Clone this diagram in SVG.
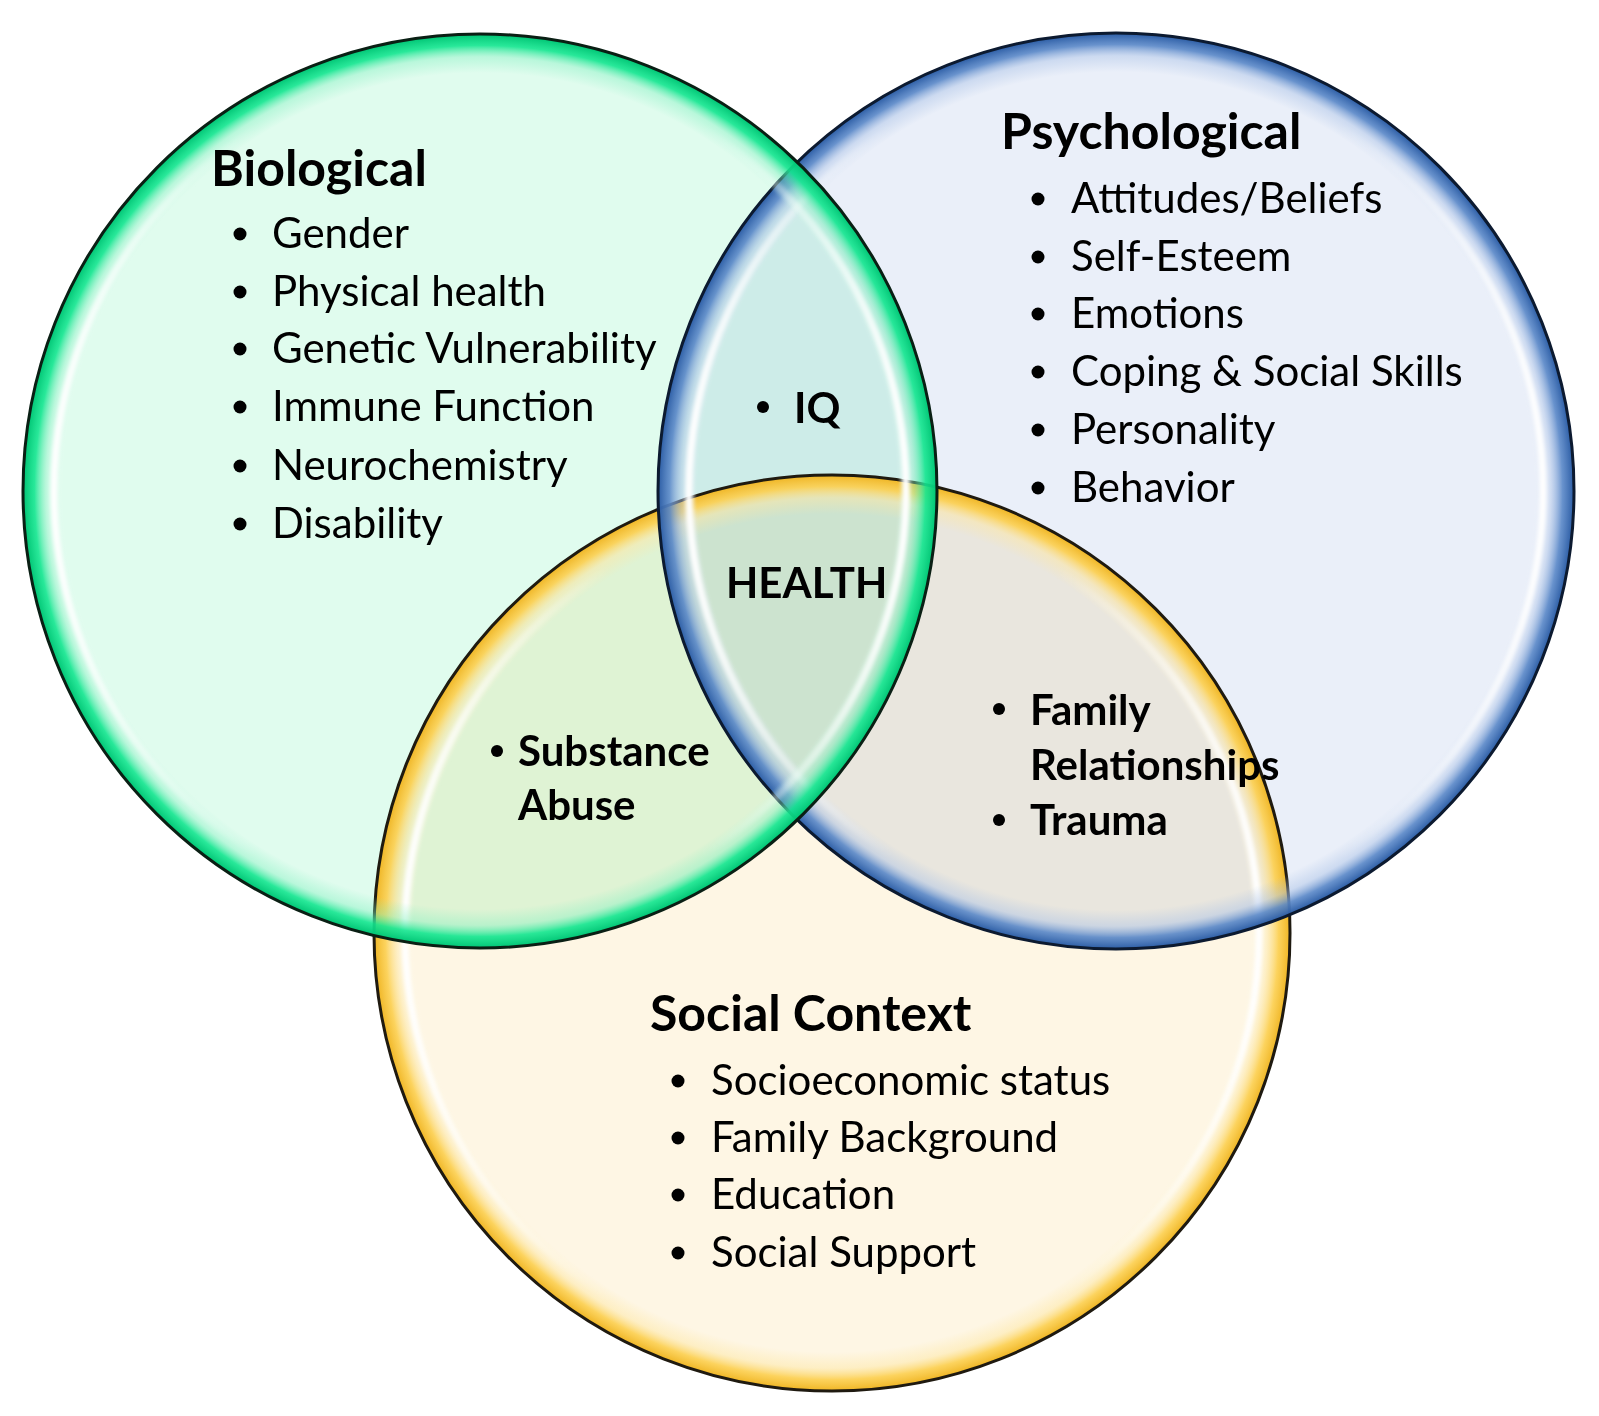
<svg xmlns="http://www.w3.org/2000/svg" width="1599" height="1416" viewBox="0 0 1599 1416">
<defs>
<style>
.t{font-family:Lato,"Liberation Sans",sans-serif;font-size:42px;fill:#000}
.h{font-family:Lato,"Liberation Sans",sans-serif;font-size:50px;font-weight:bold;fill:#000}
.b{font-family:Lato,"Liberation Sans",sans-serif;font-size:42px;font-weight:bold;fill:#000}
.dot{fill:#000}
.fill{mix-blend-mode:multiply}
.rim{fill:none;stroke-width:3}
.hl{fill:none;stroke:url(#hlg);stroke-width:8;filter:url(#blur)}
</style>
<filter id="blur" x="-10%" y="-10%" width="120%" height="120%"><feGaussianBlur stdDeviation="2"/></filter>
<linearGradient id="hlg" x1="0" y1="0" x2="1" y2="0">
<stop offset="0" stop-color="#fff" stop-opacity="1"/>
<stop offset="0.24" stop-color="#fff" stop-opacity="0"/>
<stop offset="0.76" stop-color="#fff" stop-opacity="0"/>
<stop offset="1" stop-color="#fff" stop-opacity="1"/>
</linearGradient>
<radialGradient id="bandG" cx="0.5" cy="0.5" r="0.5">
<stop offset="0" stop-color="#7ff0bf" stop-opacity="0"/>
<stop offset="0.915" stop-color="#7ff0bf" stop-opacity="0"/>
<stop offset="0.95" stop-color="#7ff0bf" stop-opacity="0.4"/>
<stop offset="0.975" stop-color="#14e690" stop-opacity="0.9"/>
<stop offset="1" stop-color="#00c474" stop-opacity="1"/>
</radialGradient>
<radialGradient id="bandB" cx="0.5" cy="0.5" r="0.5">
<stop offset="0" stop-color="#a9c1e6" stop-opacity="0"/>
<stop offset="0.915" stop-color="#a9c1e6" stop-opacity="0"/>
<stop offset="0.95" stop-color="#a9c1e6" stop-opacity="0.45"/>
<stop offset="0.975" stop-color="#5a88c8" stop-opacity="0.9"/>
<stop offset="1" stop-color="#2b5ca4" stop-opacity="1"/>
</radialGradient>
<radialGradient id="bandY" cx="0.5" cy="0.5" r="0.5">
<stop offset="0" stop-color="#fde7a4" stop-opacity="0"/>
<stop offset="0.915" stop-color="#fde7a4" stop-opacity="0"/>
<stop offset="0.95" stop-color="#fde7a4" stop-opacity="0.5"/>
<stop offset="0.975" stop-color="#fcd052" stop-opacity="0.92"/>
<stop offset="1" stop-color="#efb524" stop-opacity="1"/>
</radialGradient>
</defs>
<rect width="1599" height="1416" fill="#fff"/>

<g id="psychological">
<circle class="fill" cx="1116" cy="491" r="458" fill="#eaeff9"/>
</g>
<g id="social-context">
<circle class="fill" cx="832" cy="933" r="458" fill="#fef6e4"/>
</g>
<g id="biological">
<circle class="fill" cx="480" cy="491" r="457" fill="#e0fcee"/>
</g>

<g id="rims">
<g id="social-context-rim">
<circle cx="832" cy="933" r="458" fill="url(#bandY)"/>
<circle cx="832" cy="933" r="427" class="hl"/>
<circle cx="832" cy="933" r="458" class="rim" stroke="#1f1a10"/>
</g>
<g id="psychological-rim">
<circle cx="1116" cy="491" r="458" fill="url(#bandB)"/>
<circle cx="1116" cy="491" r="427" class="hl"/>
<circle cx="1116" cy="491" r="458" class="rim" stroke="#0c1a30"/>
</g>
<g id="biological-rim">
<circle cx="480" cy="491" r="457" fill="url(#bandG)"/>
<circle cx="480" cy="491" r="426" class="hl"/>
<circle cx="480" cy="491" r="457" class="rim" stroke="#0a1f14"/>
</g>
</g>

<g id="connectors"></g>

<g id="biological-labels">
<text class="h" x="211" y="186">Biological</text>
<circle class="dot" cx="240" cy="234" r="6.5"/><text class="t" x="272" y="248">Gender</text>
<circle class="dot" cx="240" cy="292" r="6.5"/><text class="t" x="272" y="306">Physical health</text>
<circle class="dot" cx="240" cy="349" r="6.5"/><text class="t" x="272" y="363">Genetic Vulnerability</text>
<circle class="dot" cx="240" cy="407" r="6.5"/><text class="t" x="272" y="421">Immune Function</text>
<circle class="dot" cx="240" cy="466" r="6.5"/><text class="t" x="272" y="480">Neurochemistry</text>
<circle class="dot" cx="240" cy="524" r="6.5"/><text class="t" x="272" y="538">Disability</text>
</g>

<g id="psychological-labels">
<text class="h" x="1001" y="149">Psychological</text>
<circle class="dot" cx="1038" cy="199" r="6.5"/><text class="t" x="1071" y="213">Attitudes/Beliefs</text>
<circle class="dot" cx="1038" cy="257" r="6.5"/><text class="t" x="1071" y="271">Self-Esteem</text>
<circle class="dot" cx="1038" cy="314" r="6.5"/><text class="t" x="1071" y="328">Emotions</text>
<circle class="dot" cx="1038" cy="372" r="6.5"/><text class="t" x="1071" y="386">Coping &amp; Social Skills</text>
<circle class="dot" cx="1038" cy="430" r="6.5"/><text class="t" x="1071" y="444">Personality</text>
<circle class="dot" cx="1038" cy="488" r="6.5"/><text class="t" x="1071" y="502">Behavior</text>
</g>

<g id="social-context-labels">
<text class="h" x="650" y="1031">Social Context</text>
<circle class="dot" cx="678" cy="1081" r="6.5"/><text class="t" x="711" y="1095">Socioeconomic status</text>
<circle class="dot" cx="678" cy="1138" r="6.5"/><text class="t" x="711" y="1152">Family Background</text>
<circle class="dot" cx="678" cy="1195" r="6.5"/><text class="t" x="711" y="1209">Education</text>
<circle class="dot" cx="678" cy="1253" r="6.5"/><text class="t" x="711" y="1267">Social Support</text>
</g>

<g id="iq">
<circle class="dot" cx="763" cy="407" r="6"/><text class="b" x="794" y="423">IQ</text>
</g>
<g id="health">
<text class="b" x="726" y="598" font-size="46">HEALTH</text>
</g>
<g id="substance-abuse">
<circle class="dot" cx="497" cy="751" r="6"/><text class="b" x="518" y="766">Substance</text>
<text class="b" x="518" y="820">Abuse</text>
</g>
<g id="family-trauma">
<circle class="dot" cx="999" cy="709" r="6"/><text class="b" x="1030" y="725">Family</text>
<text class="b" x="1030" y="780">Relationships</text>
<circle class="dot" cx="999" cy="820" r="6"/><text class="b" x="1030" y="835">Trauma</text>
</g>
</svg>
